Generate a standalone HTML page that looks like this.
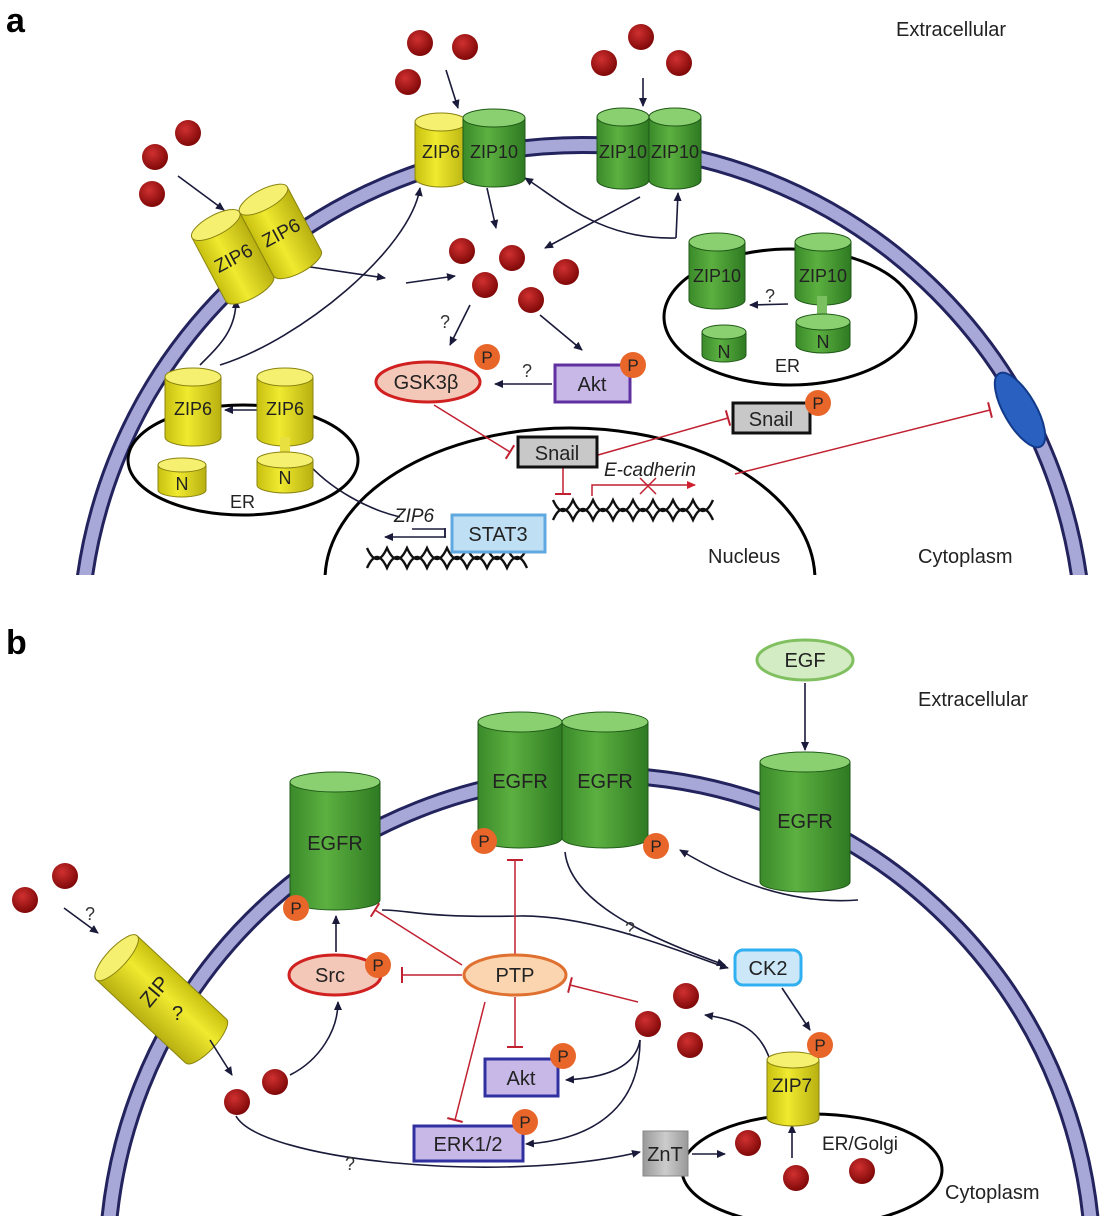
<!DOCTYPE html>
<html><head><meta charset="utf-8"><style>
html,body{margin:0;padding:0;background:#fff;overflow:hidden;}
svg{display:block;font-family:"Liberation Sans",sans-serif;}
</style></head><body>
<svg width="1116" height="1216" viewBox="0 0 1116 1216" xmlns="http://www.w3.org/2000/svg">
<defs>
<radialGradient id="zn" cx="40%" cy="35%" r="65%"><stop offset="0" stop-color="#d03030"/><stop offset="1" stop-color="#800808"/></radialGradient>
<linearGradient id="gr" x1="0" x2="1" y1="0" y2="0"><stop offset="0" stop-color="#3a8a2a"/><stop offset=".4" stop-color="#5cb040"/><stop offset="1" stop-color="#2e7a22"/></linearGradient>
<linearGradient id="yl" x1="0" x2="1" y1="0" y2="0"><stop offset="0" stop-color="#c8c010"/><stop offset=".4" stop-color="#f0ea30"/><stop offset="1" stop-color="#b8b010"/></linearGradient>
<linearGradient id="yv" x1="0" x2="0" y1="0" y2="1"><stop offset="0" stop-color="#c8c010"/><stop offset=".4" stop-color="#f0ea30"/><stop offset="1" stop-color="#b8b010"/></linearGradient>
<linearGradient id="gy" x1="0" x2="1"><stop offset="0" stop-color="#999"/><stop offset=".5" stop-color="#ccc"/><stop offset="1" stop-color="#999"/></linearGradient>
<marker id="ab" markerWidth="10" markerHeight="10" refX="8" refY="5" orient="auto" markerUnits="userSpaceOnUse"><path d="M0,1 L9,5 L0,9 z" fill="#1a1a3a"/></marker>
<marker id="ar" markerWidth="10" markerHeight="10" refX="8" refY="5" orient="auto" markerUnits="userSpaceOnUse"><path d="M0,1 L9,5 L0,9 z" fill="#d02030"/></marker>
<marker id="tr" markerWidth="4" markerHeight="16" refX="2" refY="8" orient="auto" markerUnits="userSpaceOnUse"><path d="M2,0 L2,16" stroke="#c02030" stroke-width="2"/></marker>
<clipPath id="ca"><rect x="0" y="0" width="1116" height="575"/></clipPath>
<clipPath id="cb"><rect x="0" y="620" width="1116" height="596"/></clipPath>
</defs>

<!-- PANEL A -->
<text x="6" y="32" font-size="34" font-weight="bold">a</text>
<text x="896" y="36" font-size="20" fill="#222">Extracellular</text>
<g clip-path="url(#ca)">
<circle cx="582" cy="647" r="502" fill="none" stroke="#23235e" stroke-width="18"/>
<circle cx="582" cy="647" r="502" fill="none" stroke="#a8a8d8" stroke-width="12"/>
<ellipse cx="570" cy="580" rx="245" ry="152" fill="none" stroke="#000" stroke-width="3"/>
</g>
<ellipse cx="1020" cy="410" rx="16" ry="42" transform="rotate(-30 1020 410)" fill="#2a60c0" stroke="#123a8a" stroke-width="2"/>

<g fill="url(#zn)">
<circle cx="155" cy="157" r="13"/><circle cx="188" cy="133" r="13"/><circle cx="152" cy="194" r="13"/>
<circle cx="420" cy="43" r="13"/><circle cx="465" cy="47" r="13"/><circle cx="408" cy="82" r="13"/>
<circle cx="604" cy="63" r="13"/><circle cx="641" cy="37" r="13"/><circle cx="679" cy="63" r="13"/>
<circle cx="462" cy="251" r="13"/><circle cx="512" cy="258" r="13"/><circle cx="485" cy="285" r="13"/><circle cx="566" cy="272" r="13"/><circle cx="531" cy="300" r="13"/>
</g>

<g fill="none" stroke="#1a1a3a" stroke-width="1.6" marker-end="url(#ab)">
<path d="M178,176 L224,210"/>
<path d="M446,70 L458,108"/>
<path d="M643,78 L643,106"/>
<path d="M290,264 L385,278"/>
<path d="M406,283 L455,276"/>
<path d="M487,188 L496,228"/>
<path d="M640,197 L545,248"/>
<path d="M200,365 C 220,345 236,330 236,300"/>
<path d="M220,365 C 300,340 410,250 420,188"/>
<path d="M676,238 C 600,240 560,200 525,178"/>
<path d="M676,238 L678,193"/>
<path d="M470,305 L450,345"/>
<path d="M540,315 L582,350"/>
<path d="M552,384 L495,384"/>
<path d="M788,304 L750,305"/>
<path d="M257,410 L225,410"/>
<path d="M400,517 C370,510 330,490 305,460"/>
<path d="M445,528 L445,537 L385,537" />
</g>
<path d="M412,529 L445,529 L445,538" fill="none" stroke="#1a1a3a" stroke-width="1.6"/>
<text x="440" y="328" font-size="18" fill="#333">?</text>
<text x="522" y="377" font-size="18" fill="#333">?</text>
<text x="765" y="302" font-size="18" fill="#333">?</text>

<g fill="none" stroke="#c02030" stroke-width="1.5">
<path d="M434,405 L510,452" marker-end="url(#tr)"/>
<path d="M598,455 L728,418" marker-end="url(#tr)"/>
<path d="M735,474 L990,410" marker-end="url(#tr)"/>
<path d="M563,468 L563,494" marker-end="url(#tr)"/>
<path d="M592,496 L592,485 L695,485" marker-end="url(#ar)"/>
<path d="M640,478 L656,494 M656,478 L640,494"/>
</g>

<g fill="none" stroke="#111" stroke-width="2.4">
<path d="M553,500 q10,22 20,0 q10,22 20,0 q10,22 20,0 q10,22 20,0 q10,22 20,0 q10,22 20,0 q10,22 20,0 q10,22 20,0"/>
<path d="M553,520 q10,-22 20,0 q10,-22 20,0 q10,-22 20,0 q10,-22 20,0 q10,-22 20,0 q10,-22 20,0 q10,-22 20,0 q10,-22 20,0"/>
<path d="M367,548 q10,22 20,0 q10,22 20,0 q10,22 20,0 q10,22 20,0 q10,22 20,0 q10,22 20,0 q10,22 20,0 q10,22 20,0"/>
<path d="M367,568 q10,-22 20,0 q10,-22 20,0 q10,-22 20,0 q10,-22 20,0 q10,-22 20,0 q10,-22 20,0 q10,-22 20,0 q10,-22 20,0"/>
</g>
<text x="394" y="522" font-size="19" font-style="italic" fill="#222">ZIP6</text>
<rect x="452" y="515" width="93" height="37" fill="#bfe0f4" stroke="#60a8e0" stroke-width="3"/>
<text x="498" y="541" font-size="20" text-anchor="middle" fill="#222">STAT3</text>
<text x="604" y="476" font-size="19" font-style="italic" fill="#222">E-cadherin</text>
<text x="708" y="563" font-size="20" fill="#222">Nucleus</text>
<text x="918" y="563" font-size="20" fill="#222">Cytoplasm</text>

<ellipse cx="790" cy="317" rx="126" ry="68" fill="none" stroke="#000" stroke-width="3"/>
<ellipse cx="243" cy="460" rx="115" ry="55" fill="none" stroke="#000" stroke-width="3"/>
<text x="775" y="372" font-size="18" fill="#222">ER</text>
<text x="230" y="508" font-size="18" fill="#222">ER</text>

<g stroke="#8a8410" stroke-width="1">
<path d="M415,122 L415,178 A26,9 0 0 0 467,178 L467,122 Z" fill="url(#yl)"/>
<ellipse cx="441" cy="122" rx="26" ry="9" fill="#f6f070"/>
</g>
<g stroke="#205a18" stroke-width="1">
<path d="M463,118 L463,178 A31,9 0 0 0 525,178 L525,118 Z" fill="url(#gr)"/>
<ellipse cx="494" cy="118" rx="31" ry="9" fill="#8ad070"/>
<path d="M597,117 L597,180 A26,9 0 0 0 649,180 L649,117 Z" fill="url(#gr)"/>
<ellipse cx="623" cy="117" rx="26" ry="9" fill="#8ad070"/>
<path d="M649,117 L649,180 A26,9 0 0 0 701,180 L701,117 Z" fill="url(#gr)"/>
<ellipse cx="675" cy="117" rx="26" ry="9" fill="#8ad070"/>
<path d="M689,242 L689,300 A28,9 0 0 0 745,300 L745,242 Z" fill="url(#gr)"/>
<ellipse cx="717" cy="242" rx="28" ry="9" fill="#8ad070"/>
<path d="M795,242 L795,296 A28,9 0 0 0 851,296 L851,242 Z" fill="url(#gr)"/>
<ellipse cx="823" cy="242" rx="28" ry="9" fill="#8ad070"/>
<rect x="817" y="296" width="10" height="22" fill="#7ac060" stroke="none"/>
<path d="M702,332 L702,355 A22,7 0 0 0 746,355 L746,332 Z" fill="url(#gr)"/>
<ellipse cx="724" cy="332" rx="22" ry="7" fill="#8ad070"/>
<path d="M796,322 L796,345 A27,8 0 0 0 850,345 L850,322 Z" fill="url(#gr)"/>
<ellipse cx="823" cy="322" rx="27" ry="8" fill="#8ad070"/>
</g>
<g stroke="#8a8410" stroke-width="1">
<path d="M165,377 L165,437 A28,9 0 0 0 221,437 L221,377 Z" fill="url(#yl)"/>
<ellipse cx="193" cy="377" rx="28" ry="9" fill="#f6f070"/>
<path d="M257,377 L257,437 A28,9 0 0 0 313,437 L313,377 Z" fill="url(#yl)"/>
<ellipse cx="285" cy="377" rx="28" ry="9" fill="#f6f070"/>
<rect x="280" y="437" width="10" height="16" fill="#e8e040" stroke="none"/>
<path d="M158,465 L158,490 A24,7 0 0 0 206,490 L206,465 Z" fill="url(#yl)"/>
<ellipse cx="182" cy="465" rx="24" ry="7" fill="#f6f070"/>
<path d="M257,460 L257,485 A28,8 0 0 0 313,485 L313,460 Z" fill="url(#yl)"/>
<ellipse cx="285" cy="460" rx="28" ry="8" fill="#f6f070"/>
</g>
<!-- ZIP6 dimer -->
<g transform="rotate(-28 257 245)" stroke="#8a8410" stroke-width="1">
<path d="M203,208 L203,280 A27,10 0 0 0 257,280 L257,208 Z" fill="url(#yl)"/>
<ellipse cx="230" cy="208" rx="27" ry="10" fill="#f6f070"/>
<path d="M257,208 L257,280 A27,10 0 0 0 311,280 L311,208 Z" fill="url(#yl)"/>
<ellipse cx="284" cy="208" rx="27" ry="10" fill="#f6f070"/>
<text x="230" y="252" font-size="19" text-anchor="middle" fill="#222" stroke="none">ZIP6</text>
<text x="284" y="252" font-size="19" text-anchor="middle" fill="#222" stroke="none">ZIP6</text>
</g>
<g font-size="18" fill="#222" text-anchor="middle">
<text x="441" y="158">ZIP6</text><text x="494" y="158">ZIP10</text>
<text x="623" y="158">ZIP10</text><text x="675" y="158">ZIP10</text>
<text x="717" y="282">ZIP10</text><text x="823" y="282">ZIP10</text>
<text x="724" y="358">N</text><text x="823" y="348">N</text>
<text x="193" y="415">ZIP6</text><text x="285" y="415">ZIP6</text>
<text x="182" y="490">N</text><text x="285" y="484">N</text>
</g>

<ellipse cx="428" cy="382" rx="52" ry="20" fill="#f4c8b8" stroke="#d02020" stroke-width="3"/>
<text x="426" y="389" font-size="20" text-anchor="middle" fill="#222">GSK3β</text>
<rect x="555" y="365" width="75" height="37" fill="#c8b8e8" stroke="#6030a0" stroke-width="3"/>
<text x="592" y="391" font-size="20" text-anchor="middle" fill="#222">Akt</text>
<rect x="518" y="437" width="79" height="30" fill="#c8c8c8" stroke="#111" stroke-width="3"/>
<text x="557" y="460" font-size="20" text-anchor="middle" fill="#222">Snail</text>
<rect x="733" y="403" width="77" height="30" fill="#c8c8c8" stroke="#111" stroke-width="3"/>
<text x="771" y="426" font-size="20" text-anchor="middle" fill="#222">Snail</text>
<g font-size="17" text-anchor="middle" fill="#222">
<circle cx="487" cy="357" r="13" fill="#e8662a"/><text x="487" y="363">P</text>
<circle cx="633" cy="365" r="13" fill="#e8662a"/><text x="633" y="371">P</text>
<circle cx="818" cy="403" r="13" fill="#e8662a"/><text x="818" y="409">P</text>
</g>

<!-- PANEL B -->
<text x="6" y="654" font-size="34" font-weight="bold">b</text>
<text x="918" y="706" font-size="20" fill="#222">Extracellular</text>
<g clip-path="url(#cb)">
<circle cx="600" cy="1268" r="493" fill="none" stroke="#23235e" stroke-width="18"/>
<circle cx="600" cy="1268" r="493" fill="none" stroke="#a8a8d8" stroke-width="12"/>
<ellipse cx="812" cy="1170" rx="130" ry="56" fill="none" stroke="#000" stroke-width="3"/>
</g>
<ellipse cx="805" cy="660" rx="48" ry="20" fill="#d4ecc4" stroke="#80c060" stroke-width="3"/>
<text x="805" y="667" font-size="20" text-anchor="middle" fill="#222">EGF</text>

<g stroke="#205a18" stroke-width="1">
<path d="M290,782 L290,900 A45,10 0 0 0 380,900 L380,782 Z" fill="url(#gr)"/>
<ellipse cx="335" cy="782" rx="45" ry="10" fill="#8ad070"/>
<path d="M478,722 L478,838 A42,10 0 0 0 562,838 L562,722 Z" fill="url(#gr)"/>
<ellipse cx="520" cy="722" rx="42" ry="10" fill="#8ad070"/>
<path d="M562,722 L562,838 A43,10 0 0 0 648,838 L648,722 Z" fill="url(#gr)"/>
<ellipse cx="605" cy="722" rx="43" ry="10" fill="#8ad070"/>
<path d="M760,762 L760,882 A45,10 0 0 0 850,882 L850,762 Z" fill="url(#gr)"/>
<ellipse cx="805" cy="762" rx="45" ry="10" fill="#8ad070"/>
</g>
<g font-size="20" text-anchor="middle" fill="#222">
<text x="335" y="850">EGFR</text><text x="520" y="788">EGFR</text><text x="605" y="788">EGFR</text><text x="805" y="828">EGFR</text>
</g>
<!-- ZIP? cylinder: axis from upper-left to lower-right -->
<g transform="rotate(43 162 1000)" stroke="#8a8410">
<path d="M100,970 L222,970 A10,30 0 0 1 222,1030 L100,1030 Z" fill="url(#yv)"/>
<ellipse cx="100" cy="1000" rx="10" ry="30" fill="#f6f070"/>
</g>
<text x="0" y="0" font-size="21" fill="#222" text-anchor="middle" transform="translate(160,996) rotate(-50)">ZIP</text>
<text x="172" y="1020" font-size="20" fill="#222">?</text>

<g fill="url(#zn)">
<circle cx="25" cy="900" r="13"/><circle cx="65" cy="876" r="13"/>
<circle cx="237" cy="1102" r="13"/><circle cx="275" cy="1082" r="13"/>
<circle cx="686" cy="996" r="13"/><circle cx="648" cy="1024" r="13"/><circle cx="690" cy="1045" r="13"/>
<circle cx="748" cy="1143" r="13"/><circle cx="796" cy="1178" r="13"/><circle cx="862" cy="1171" r="13"/>
</g>

<g fill="none" stroke="#1a1a3a" stroke-width="1.6" marker-end="url(#ab)">
<path d="M805,683 L805,750"/>
<path d="M64,908 L98,933"/>
<path d="M210,1040 L232,1075"/>
<path d="M290,1075 C 320,1060 338,1030 338,1002"/>
<path d="M336,952 L336,916"/>
<path d="M858,900 C 790,905 730,880 680,850"/>
<path d="M382,910 C 410,910 420,918 520,916 C 600,915 700,960 728,968"/>
<path d="M565,852 C 570,900 640,935 725,965"/>
<path d="M782,988 L810,1030"/>
<path d="M770,1060 C 760,1030 740,1020 705,1015"/>
<path d="M640,1040 C 635,1070 600,1078 566,1080"/>
<path d="M640,1040 C 640,1110 590,1140 526,1144"/>
<path d="M236,1116 C 260,1160 500,1185 640,1152"/>
<path d="M692,1154 L725,1154"/>
<path d="M792,1158 L792,1125"/>
</g>
<g font-size="18" fill="#333"><text x="85" y="920">?</text><text x="625" y="935">?</text><text x="345" y="1170">?</text></g>

<g fill="none" stroke="#c02030" stroke-width="1.5">
<path d="M515,955 L515,860" marker-end="url(#tr)"/>
<path d="M462,965 L375,910" marker-end="url(#tr)"/>
<path d="M462,975 L402,975" marker-end="url(#tr)"/>
<path d="M638,1002 L570,985" marker-end="url(#tr)"/>
<path d="M515,997 L515,1047" marker-end="url(#tr)"/>
<path d="M485,1002 L455,1120" marker-end="url(#tr)"/>
</g>

<ellipse cx="335" cy="975" rx="46" ry="20" fill="#f4c8b8" stroke="#d02020" stroke-width="3"/>
<text x="330" y="982" font-size="20" text-anchor="middle" fill="#222">Src</text>
<ellipse cx="515" cy="975" rx="51" ry="20" fill="#fbd5b0" stroke="#e07030" stroke-width="3"/>
<text x="515" y="982" font-size="20" text-anchor="middle" fill="#222">PTP</text>
<rect x="735" y="950" width="66" height="35" rx="8" fill="#cce8f8" stroke="#30b0f0" stroke-width="3"/>
<text x="768" y="975" font-size="20" text-anchor="middle" fill="#222">CK2</text>
<rect x="485" y="1059" width="73" height="37" fill="#c8b8e8" stroke="#3030a0" stroke-width="3"/>
<text x="521" y="1085" font-size="20" text-anchor="middle" fill="#222">Akt</text>
<rect x="414" y="1126" width="109" height="35" fill="#c8b8e8" stroke="#3030a0" stroke-width="3"/>
<text x="468" y="1151" font-size="20" text-anchor="middle" fill="#222">ERK1/2</text>
<rect x="643" y="1131" width="45" height="45" fill="url(#gy)" stroke="#888"/>
<text x="665" y="1161" font-size="20" text-anchor="middle" fill="#222">ZnT</text>
<g stroke="#8a8410">
<path d="M767,1060 L767,1118 A26,8 0 0 0 819,1118 L819,1060 Z" fill="url(#yl)"/>
<ellipse cx="793" cy="1060" rx="26" ry="8" fill="#f6f070"/>
</g>
<text x="792" y="1092" font-size="19" text-anchor="middle" fill="#222">ZIP7</text>
<text x="822" y="1150" font-size="19" fill="#222">ER/Golgi</text>
<text x="945" y="1199" font-size="20" fill="#222">Cytoplasm</text>
<g font-size="17" text-anchor="middle" fill="#222">
<circle cx="296" cy="908" r="13" fill="#e8662a"/><text x="296" y="914">P</text>
<circle cx="484" cy="841" r="13" fill="#e8662a"/><text x="484" y="847">P</text>
<circle cx="656" cy="846" r="13" fill="#e8662a"/><text x="656" y="852">P</text>
<circle cx="378" cy="965" r="13" fill="#e8662a"/><text x="378" y="971">P</text>
<circle cx="563" cy="1056" r="13" fill="#e8662a"/><text x="563" y="1062">P</text>
<circle cx="525" cy="1122" r="13" fill="#e8662a"/><text x="525" y="1128">P</text>
<circle cx="820" cy="1045" r="13" fill="#e8662a"/><text x="820" y="1051">P</text>
</g>
</svg>
</body></html>
